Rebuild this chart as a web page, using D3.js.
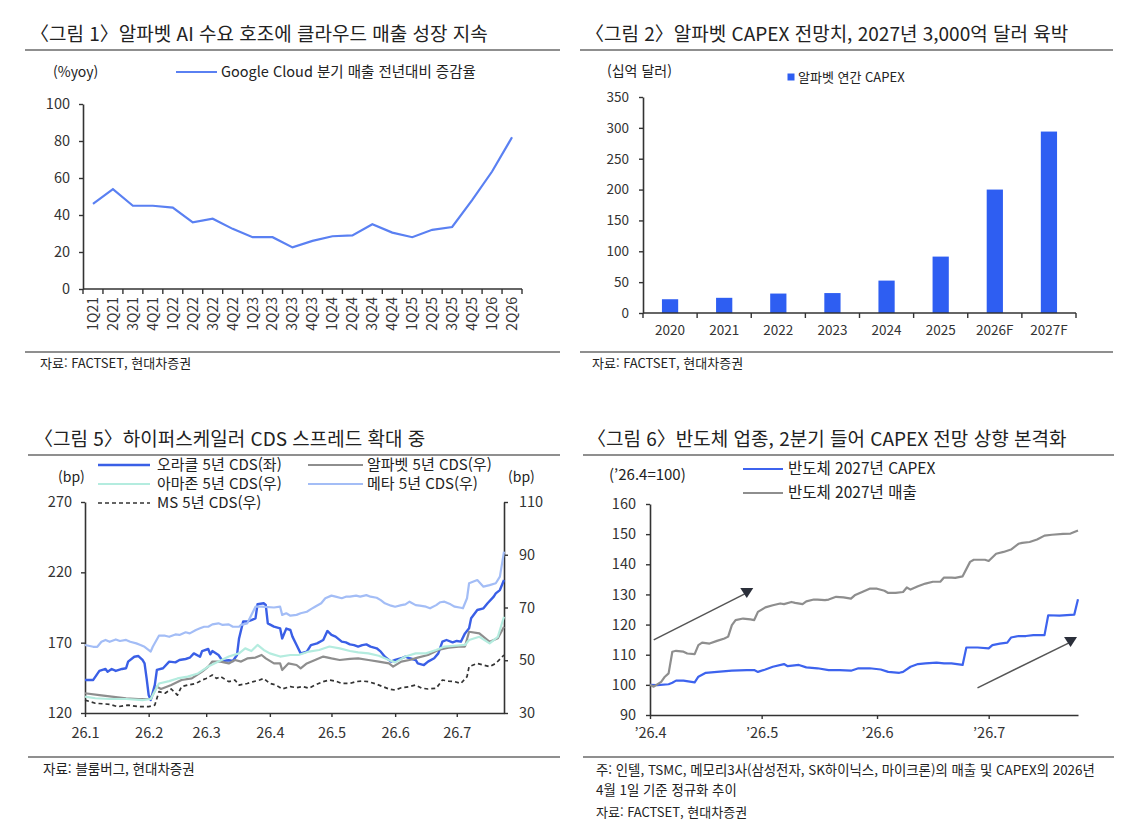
<!DOCTYPE html>
<html lang="ko">
<head>
<meta charset="utf-8">
<title>Alphabet / hyperscaler charts</title>
<script src="https://cdn.jsdelivr.net/npm/d3@7"></script>
<style>
  body { margin: 0; background: #fff; }
</style>
</head>
<body>
<svg id="chart" width="1130" height="834"></svg>
<script>
// ---------- data ----------
const cloudQuarters = ["1Q21","2Q21","3Q21","4Q21","1Q22","2Q22","3Q22","4Q22","1Q23","2Q23","3Q23","4Q23",
  "1Q24","2Q24","3Q24","4Q24","1Q25","2Q25","3Q25","4Q25","1Q26","2Q26"];
const cloudGrowth = [46,54,45,45,44,36,38,32.5,28,28,22.5,26,28.5,29,35,30.5,28,32,33.5,48,63.5,82];

const capexYears = ["2020","2021","2022","2023","2024","2025","2026F","2027F"];
const capexValues = [22.3,24.6,31.5,32.3,52.5,91.4,200,294];

// CDS series: [days since 2026-01-01, bp]
const oracleCds = [[0,143.5],[4,143.5],[7,149.9],[10,151.3],[11,149.4],[13,151.3],[15,149.9],[18,151.3],[20,151.8],
  [21,156.5],[24,160],[26,160.5],[28,157.7],[29,155.3],[30,144.6],[31,132.8],[32,129.2],[34,140],[35,150.6],[38,151.8],
  [41,156.5],[44,156],[46,157.7],[49,158.4],[51,159.3],[53,162.4],[56,160],[57,164],[60,165.5],[61,161.7],[62,164],
  [65,161.2],[67,157],[70,157.5],[72,157],[74,161.2],[75,173],[77,185],[79,185],[81,186],[83,187.3],[84,197.3],
  [87,198],[88,196.8],[89,183.7],[92,181.4],[95,180.2],[96,173],[98,180],[100,179],[101,174.3],[103,168.3],
  [105,162.4],[108,163.6],[110,168.3],[113,169.5],[116,171.9],[118,178.3],[120,175.5],[122,174.3],[125,170.7],
  [127,170.2],[129,168.8],[131,168.3],[133,167.2],[135,168.3],[137,168.8],[139,167.2],[142,166],[144,163.6],
  [146,160],[149,156.5],[151,157.7],[154,158.9],[156,160],[158,158.9],[161,157.7],[162,155.3],[165,154.1],
  [167,156.5],[170,158.9],[172,162.4],[174,170.7],[176,171.9],[179,170.2],[181,171.2],[183,170.7],[185,176.6],
  [187,180.2],[188,187.3],[191,193.2],[194,194.4],[196,198],[199,202.7],[200,205],[202,207.4],[204,214.5]];
const alphabetCds = [[0,37.5],[7,36.8],[13,36.2],[20,35.6],[26,35.3],[32,35.3],[35,40],[37,39.1],[42,40.6],[47,42.5],
  [52,43.1],[57,45.7],[60,47.6],[62,49.5],[66,49.5],[70,48.8],[73,50.1],[76,49.5],[79,50.7],[83,51],[86,52],[88,50.7],
  [92,48.8],[95,48.8],[96,46.3],[99,48.8],[103,48.2],[105,46.9],[108,48.8],[112,50.1],[116,51.4],[120,50.7],[124,50.1],
  [129,50.5],[133,50.7],[138,50.1],[143,49.5],[148,48.8],[150,47.6],[154,49.5],[158,50.1],[162,51],[167,52],[172,53.9],
  [177,54.8],[182,55.2],[185,55.2],[187,60.8],[192,60.2],[197,57],[201,58.3],[204,62.7]];
const amazonCds = [[0,36.2],[5,35.6],[12,35.3],[20,35.3],[28,34.9],[32,35.3],[36,41.2],[41,42.1],[45,43.1],[50,43.8],
  [55,45],[60,47.6],[65,49.5],[70,51.4],[75,52.6],[78,54.5],[81,53.5],[84,55.8],[87,53.9],[90,52.6],[95,51.4],[100,52],
  [104,52],[109,53.3],[114,53.9],[119,55.2],[124,54.5],[129,53.5],[133,53],[138,52.6],[143,51.7],[148,50.1],[151,49.2],
  [156,51.4],[161,52.6],[166,52.6],[171,53.9],[175,55.2],[180,55.5],[185,55.8],[187,57.7],[192,58.9],[197,56.4],
  [201,58.9],[204,66.5]];
const metaCds = [[0,55.8],[4,55.1],[6,55.1],[8,57],[10,57.7],[12,57],[15,57.9],[17,57.3],[20,57.7],[22,57],[25,56.4],
  [27,55.8],[29,55.1],[32,53.3],[33,55.1],[36,59.3],[39,59.3],[41,58.9],[44,59.8],[46,59.6],[49,60.6],[51,60.2],
  [54,61.5],[56,62.1],[58,62.7],[60,62.7],[62,63.6],[65,64],[67,63.4],[70,63.6],[72,62.7],[75,62.7],[76,63.4],[79,64],
  [83,70.3],[86,70.3],[92,70],[95,70.3],[96,67.2],[98,67.8],[100,66.9],[103,67.2],[105,67.8],[108,68.4],[110,69.4],
  [112,70.3],[115,71.6],[117,73.5],[120,74.5],[122,74.1],[125,73.5],[127,74.1],[129,74.1],[132,74.5],[134,74.1],
  [137,74.7],[139,74.1],[142,73.7],[144,72.8],[146,71.6],[149,70.7],[151,70.3],[154,70.9],[156,71.2],[158,72.2],
  [161,70.9],[163,70.7],[166,70.3],[168,69.7],[171,70.9],[173,72],[175,72.2],[178,71.2],[180,70.3],[183,69.9],
  [184,69.7],[186,73.5],[187,79.2],[191,80.4],[194,77.9],[197,78.5],[200,79.2],[202,81.7],[204,91.2]];
const msCds = [[0,34.9],[5,33.7],[12,33.3],[16,32.4],[21,33],[26,32.4],[31,32.4],[34,33],[36,38.1],[39,37.5],[42,39.1],
  [45,36.8],[47,40],[50,40.6],[54,41.2],[57,42.5],[59,43.1],[62,44.4],[64,43.1],[66,43.8],[70,41.9],[73,42.5],[75,40.6],
  [79,41.2],[82,41.9],[85,42.5],[87,43.1],[90,41.2],[93,40.6],[96,39.1],[100,40],[103,39.6],[106,40],[109,39.4],
  [112,40.6],[116,41.9],[119,42.5],[122,42.1],[125,41.2],[129,41.2],[132,41.9],[135,42.1],[138,41.9],[142,40.9],
  [145,40],[148,39.1],[151,38.7],[154,39.6],[158,40],[161,40.6],[164,39.4],[167,39.1],[171,39.4],[174,42.5],[177,42.1],
  [180,41.9],[183,41.2],[186,43.8],[187,47.6],[191,48.8],[194,48.2],[197,47.6],[200,48.8],[204,52]];
const cdsLeftTicks = [120,170,220,270];
const cdsRightTicks = [30,50,70,90,110];

// semiconductor index ('26.4 = 100): [days since 2026-04-01, index]
const semiCapex = [[0,100],[2,99.9],[5,100.2],[6,100.7],[7,101.4],[9,101.4],[12,100.8],[13,102.7],[15,104],[18,104.3],
  [22,104.7],[26,104.9],[28,104.9],[29,104.3],[31,105.1],[33,106],[36,106.9],[37,106.2],[40,106.6],[42,105.8],[45,105.5],
  [48,104.9],[51,104.9],[54,104.7],[56,105.5],[59,105.5],[62,105.1],[64,104.3],[67,104],[68,104.3],[70,106],[72,106.9],
  [74,107.1],[77,107.4],[79,107.1],[81,107.1],[84,106.6],[85,112.4],[88,112.4],[91,112.1],[92,113.2],[94,113.7],[96,114],
  [97,115.7],[99,116.2],[101,116.2],[103,116.5],[106,116.5],[107,123.1],[110,123],[114,123.3],[115,128.4]];
const semiSales = [[0,100],[1,99.4],[3,101],[4,102.7],[5,103.8],[6,111],[7,111.3],[9,111],[10,110.4],[12,110.2],
  [13,113.2],[14,114],[16,113.7],[18,114.6],[20,115.4],[21,116],[22,119.8],[23,121.5],[25,122],[27,121.7],[28,121.5],
  [29,124.2],[31,125.7],[33,126.4],[35,127],[36,126.8],[38,127.5],[39,127.2],[41,126.8],[42,127.7],[44,128.3],[45,128.3],
  [47,128.1],[48,128.3],[50,129.2],[52,129],[54,128.6],[55,129.7],[57,130.8],[59,131.9],[61,131.9],[63,131.2],[64,130.5],
  [66,130.5],[68,130.8],[69,132.3],[70,131.6],[72,132.7],[74,133.6],[76,134.2],[78,134.2],[79,135.6],[81,135.6],
  [82,135.5],[84,136],[86,140.8],[87,141.5],[89,141.5],[90,141.5],[91,141.1],[93,143.5],[95,144.1],[97,144.9],[99,146.8],
  [100,147.1],[102,147.4],[104,148.2],[106,149.5],[108,149.8],[111,150.1],[113,150.2],[115,151.2]];
// trend arrows: [start, end] in [day, index]
const semiArrows = [[[1.6,114.9],[26.6,130.5]], [[88.4,99],[113.8,114.2]]];

const titles = [
  "\u3008그림 1\u3009알파벳 AI 수요 호조에 클라우드 매출 성장 지속",
  "\u3008그림 2\u3009알파벳 CAPEX 전망치, 2027년 3,000억 달러 육박",
  "\u3008그림 5\u3009하이퍼스케일러 CDS 스프레드 확대 중",
  "\u3008그림 6\u3009반도체 업종, 2분기 들어 CAPEX 전망 상향 본격화"
];

// ---------- helpers ----------
const FONT = '"Noto Sans CJK KR","Noto Sans",sans-serif';
const INK = "#222";
const svg = d3.select("#chart").attr("font-family", FONT);
svg.append("rect").attr("width", 1130).attr("height", 834).attr("fill", "#fff");

function label(g, x, y, s, size, anchor) {
  return g.append("text").attr("x", x).attr("y", y).attr("dy", "0.35em")
    .attr("font-size", size).attr("text-anchor", anchor || "start").attr("fill", INK).text(s);
}
function rule(g, x1, x2, y) {
  g.append("line").attr("x1", x1).attr("x2", x2).attr("y1", y).attr("y2", y)
    .attr("stroke", "#8f8f8f").attr("stroke-width", 2);
}
function styleAxis(g, size) {
  g.attr("font-family", FONT).attr("font-size", size);
  g.select(".domain").attr("stroke", "#333").attr("stroke-width", 1.6);
  g.selectAll(".tick line").attr("stroke", "#333").attr("stroke-width", 1.4);
  g.selectAll(".tick text").attr("fill", "#333");
}
function hline(g, x1, x2, y) {
  g.append("line").attr("x1", x1).attr("x2", x2).attr("y1", y).attr("y2", y)
    .attr("stroke", "#333").attr("stroke-width", 1.6);
}

// ---------- panel 1 : Google Cloud growth ----------
const p1 = svg.append("g");
label(p1, 30, 34, titles[0], 19);
rule(p1, 25, 560, 50);
rule(p1, 25, 560, 352);
label(p1, 53, 72, "(%yoy)", 14);
p1.append("line").attr("x1", 176).attr("x2", 217).attr("y1", 72).attr("y2", 72)
  .attr("stroke", "#5a80f2").attr("stroke-width", 2);
label(p1, 221, 72, "Google Cloud 분기 매출 전년대비 증감율", 14.5);

const x1 = d3.scaleBand().domain(cloudQuarters).range([83, 522]);
const y1 = d3.scaleLinear().domain([0, 100]).range([289, 104]);

p1.append("g").attr("transform", "translate(83,0)")
  .call(d3.axisLeft(y1).tickValues(d3.range(0, 101, 20)).tickSize(4).tickSizeOuter(0).tickPadding(9))
  .call(styleAxis, 14.5);
hline(p1, 83, 522, 289);
p1.selectAll(".qtick").data(d3.range(cloudQuarters.length + 1)).join("line")
  .attr("x1", i => 83 + i * x1.step()).attr("x2", i => 83 + i * x1.step())
  .attr("y1", 289).attr("y2", 294).attr("stroke", "#333").attr("stroke-width", 1.4);
p1.selectAll(".qlab").data(cloudQuarters).join("text")
  .attr("transform", d => `translate(${x1(d) + x1.bandwidth() / 2},297) rotate(-90)`)
  .attr("text-anchor", "end").attr("dy", "0.35em").attr("font-size", 14).attr("fill", "#333").text(d => d);

p1.append("path").datum(cloudGrowth)
  .attr("fill", "none").attr("stroke", "#5a80f2").attr("stroke-width", 2.2)
  .attr("d", d3.line().x((d, i) => x1(cloudQuarters[i]) + x1.bandwidth() / 2).y(d => y1(d)));
label(p1, 40, 363, "자료: FACTSET, 현대차증권", 13);

// ---------- panel 2 : Alphabet CAPEX ----------
const p2 = svg.append("g");
label(p2, 585, 34, titles[1], 19);
rule(p2, 580, 1113, 50);
rule(p2, 580, 1113, 352);
label(p2, 607, 71, "(십억 달러)", 14);
p2.append("rect").attr("x", 787.5).attr("y", 73.5).attr("width", 7).attr("height", 7).attr("fill", "#2e5ef2");
label(p2, 798, 77, "알파벳 연간 CAPEX", 13);

const x2 = d3.scaleBand().domain(capexYears).range([643, 1076]).paddingInner(0.7).paddingOuter(0.35);
const y2 = d3.scaleLinear().domain([0, 350]).range([313, 97]);
p2.append("g").attr("transform", "translate(643,0)")
  .call(d3.axisLeft(y2).tickValues(d3.range(0, 351, 50)).tickSize(4).tickSizeOuter(0).tickPadding(10))
  .call(styleAxis, 13.5);
p2.selectAll(".bar").data(capexValues).join("rect")
  .attr("x", (d, i) => x2(capexYears[i])).attr("width", x2.bandwidth())
  .attr("y", d => y2(d)).attr("height", d => y2(0) - y2(d)).attr("fill", "#2e5ef2");
hline(p2, 643, 1076, 313);
p2.selectAll(".ytick").data(d3.range(capexYears.length + 1)).join("line")
  .attr("x1", i => 643 + i * x2.step()).attr("x2", i => 643 + i * x2.step())
  .attr("y1", 313).attr("y2", 318).attr("stroke", "#333").attr("stroke-width", 1.4);
p2.selectAll(".ylab").data(capexYears).join("text")
  .attr("x", d => x2(d) + x2.bandwidth() / 2).attr("y", 330).attr("dy", "0.35em")
  .attr("text-anchor", "middle").attr("font-size", 13.5).attr("fill", "#333").text(d => d);
label(p2, 592, 363, "자료: FACTSET, 현대차증권", 13);

// ---------- panel 3 : hyperscaler CDS ----------
const p3 = svg.append("g");
label(p3, 34, 439, titles[2], 19);
rule(p3, 28, 560, 455);
rule(p3, 28, 560, 757);

const cdsStart = new Date(2026, 0, 1);
const x3 = d3.scaleTime().domain([cdsStart, new Date(2026, 6, 24)]).range([85, 504]);
const y3L = d3.scaleLinear().domain([120, 270]).range([713, 502]);
const y3R = d3.scaleLinear().domain([30, 110]).range([713, 502]);
const cdsDay = d => d3.timeDay.offset(cdsStart, d);

p3.append("g").attr("transform", "translate(85,0)")
  .call(d3.axisLeft(y3L).tickValues(cdsLeftTicks).tickSize(4).tickSizeOuter(0).tickPadding(9))
  .call(styleAxis, 14.5);
p3.append("g").attr("transform", "translate(504,0)")
  .call(d3.axisRight(y3R).tickValues(cdsRightTicks).tickSize(4).tickSizeOuter(0).tickPadding(11))
  .call(styleAxis, 14.5);
p3.append("g").attr("transform", "translate(0,713)")
  .call(d3.axisBottom(x3).tickValues(d3.timeMonth.range(cdsStart, new Date(2026, 6, 2)))
    .tickFormat(d => "26." + (d.getMonth() + 1)).tickSize(4).tickSizeOuter(0).tickPadding(11))
  .call(styleAxis, 14.5);

const cdsSeries = [
  { name: "오라클 5년 CDS(좌)", data: oracleCds, y: y3L, color: "#3a5fe6", w: 2.4, dash: null, row: 0, col: 0 },
  { name: "알파벳 5년 CDS(우)", data: alphabetCds, y: y3R, color: "#8e8e8e", w: 2.2, dash: null, row: 0, col: 1 },
  { name: "아마존 5년 CDS(우)", data: amazonCds, y: y3R, color: "#b4ecdf", w: 2.2, dash: null, row: 1, col: 0 },
  { name: "메타 5년 CDS(우)", data: metaCds, y: y3R, color: "#a3bdf6", w: 2.2, dash: null, row: 1, col: 1 },
  { name: "MS 5년 CDS(우)", data: msCds, y: y3R, color: "#333", w: 1.7, dash: "4,3", row: 2, col: 0 }
];
cdsSeries.forEach(s => {
  p3.append("path").datum(s.data).attr("fill", "none")
    .attr("stroke", s.color).attr("stroke-width", s.w).attr("stroke-dasharray", s.dash)
    .attr("stroke-linejoin", "round")
    .attr("d", d3.line().x(d => x3(cdsDay(d[0]))).y(d => s.y(d[1])));
});
const legCols = [[98, 150, 157], [308, 363, 367]];
const legRows = [465, 484, 503];
cdsSeries.forEach(s => {
  const c = legCols[s.col], yy = legRows[s.row];
  p3.append("line").attr("x1", c[0]).attr("x2", c[1]).attr("y1", yy).attr("y2", yy)
    .attr("stroke", s.color).attr("stroke-width", s.w).attr("stroke-dasharray", s.dash);
  label(p3, c[2], yy, s.name, 15);
});
label(p3, 58, 477, "(bp)", 14);
label(p3, 508, 477, "(bp)", 14);
label(p3, 43, 769, "자료: 블룸버그, 현대차증권", 13.5);

// ---------- panel 4 : semiconductor CAPEX / sales ----------
const p4 = svg.append("g");
label(p4, 587, 439, titles[3], 19);
rule(p4, 583, 1114, 455);
rule(p4, 583, 1114, 757);
label(p4, 609, 475, "(\u201926.4=100)", 15);

const semiStart = new Date(2026, 3, 1);
const x4 = d3.scaleTime().domain([semiStart, new Date(2026, 6, 25)]).range([650, 1078]);
const y4 = d3.scaleLinear().domain([90, 160]).range([715, 504]);
const semiDay = d => d3.timeDay.offset(semiStart, d);

p4.append("g").attr("transform", "translate(650,0)")
  .call(d3.axisLeft(y4).tickValues(d3.range(90, 161, 10)).tickSize(4).tickSizeOuter(0).tickPadding(10))
  .call(styleAxis, 14.5);
p4.append("g").attr("transform", "translate(0,715)")
  .call(d3.axisBottom(x4).tickValues(d3.timeMonth.range(semiStart, new Date(2026, 6, 2)))
    .tickFormat(d => "\u201926." + (d.getMonth() + 1)).tickSize(4).tickSizeOuter(0).tickPadding(9))
  .call(styleAxis, 14.5);

const semiSeries = [
  { name: "반도체 2027년 CAPEX", data: semiCapex, color: "#3d63ee", ly: 469 },
  { name: "반도체 2027년 매출", data: semiSales, color: "#8e8e8e", ly: 493 }
];
semiSeries.forEach(s => {
  p4.append("path").datum(s.data).attr("fill", "none")
    .attr("stroke", s.color).attr("stroke-width", 2.2).attr("stroke-linejoin", "round")
    .attr("d", d3.line().x(d => x4(semiDay(d[0]))).y(d => y4(d[1])));
  p4.append("line").attr("x1", 743).attr("x2", 783).attr("y1", s.ly).attr("y2", s.ly)
    .attr("stroke", s.color).attr("stroke-width", 2);
  label(p4, 788, s.ly, s.name, 15.5);
});

semiArrows.forEach(a => {
  const sx = x4(semiDay(a[0][0])), sy = y4(a[0][1]);
  const ex = x4(semiDay(a[1][0])), ey = y4(a[1][1]);
  p4.append("line").attr("x1", sx).attr("y1", sy).attr("x2", ex).attr("y2", ey)
    .attr("stroke", "#555").attr("stroke-width", 1.5);
  p4.append("path").attr("d", `M${ex - 6.5},${ey - 5}L${ex + 6.5},${ey - 5}L${ex},${ey + 5}Z`)
    .attr("fill", "#2b2f3a");
});

label(p4, 596, 770, "주: 인텔, TSMC, 메모리3사(삼성전자, SK하이닉스, 마이크론)의 매출 및 CAPEX의 2026년", 13.4);
label(p4, 596, 790, "4월 1일 기준 정규화 추이", 13.4);
label(p4, 596, 812, "자료: FACTSET, 현대차증권", 13);
</script>
</body>
</html>
